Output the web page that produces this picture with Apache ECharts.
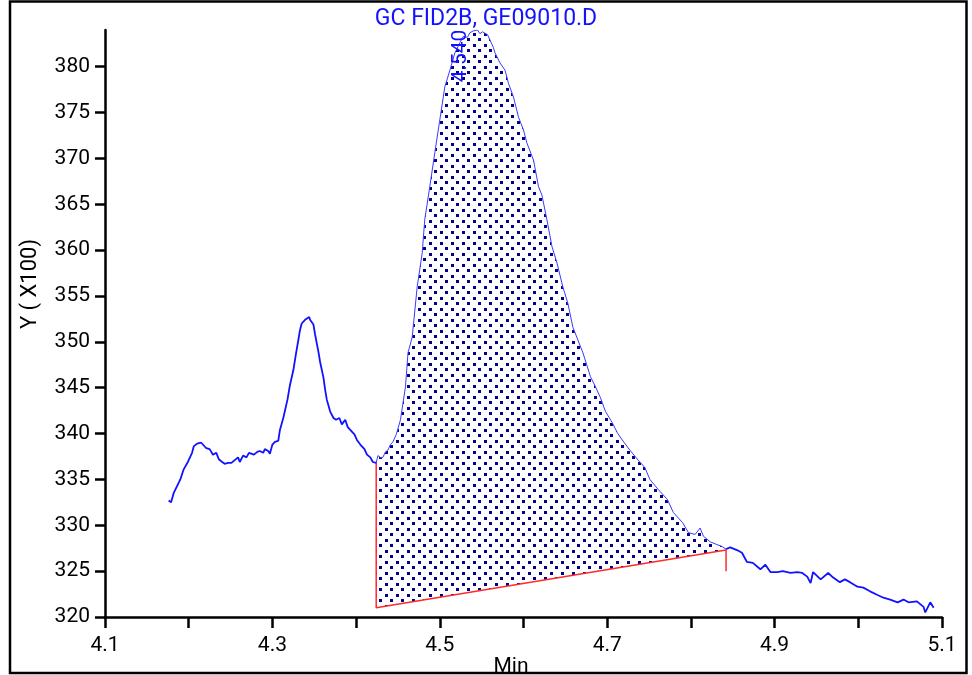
<!DOCTYPE html>
<html>
<head>
<meta charset="utf-8">
<script src="https://cdn.jsdelivr.net/npm/echarts@6/dist/echarts.min.js"></script>
<style>html,body{margin:0;padding:0;background:#fff}#c{width:972px;height:675px}</style>
</head>
<body>
<div id="c"></div>
<script>
// ---- data (time in min, signal in Y x100) ----
const preTime = [4.176,4.179,4.182,4.190,4.194,4.199,4.204,4.206,4.210,4.215,4.217,4.221,4.225,4.229,4.231,4.233,4.236,4.240,4.243,4.247,4.251,4.253,4.255,4.259,4.261,4.265,4.269,4.272,4.274,4.278,4.282,4.285,4.289,4.291,4.295,4.297,4.300,4.303,4.307,4.309,4.313,4.318,4.321,4.325,4.328,4.331,4.333,4.335,4.339,4.341,4.344,4.345,4.349,4.351,4.355,4.357,4.361,4.363,4.365,4.369,4.373,4.376,4.380,4.383,4.387,4.390,4.393,4.398,4.401,4.405,4.410,4.413,4.417,4.420,4.424];
const preSignal = [332.7,332.5,333.5,335.0,336.1,336.9,337.9,338.6,338.9,339.0,338.8,338.4,338.3,337.7,337.5,337.9,337.2,336.9,336.7,336.8,336.8,336.7,337.1,337.4,336.9,337.6,337.4,337.9,338.0,337.7,338.0,338.1,337.9,338.3,338.1,337.8,338.8,339.1,339.2,340.4,341.7,343.7,345.3,346.9,348.6,350.2,351.3,352.0,352.4,352.5,352.7,352.4,351.9,350.8,348.9,347.8,346.1,344.8,343.7,342.4,341.7,341.5,341.7,341.0,341.5,340.7,340.4,339.9,339.3,338.8,338.3,337.7,337.4,336.9,336.8];

const peakTime = [4.424,4.426,4.429,4.432,4.435,4.438,4.441,4.444,4.448,4.453,4.459,4.462,4.467,4.473,4.479,4.482,4.488,4.494,4.500,4.506,4.512,4.518,4.524,4.528,4.533,4.536,4.540,4.545,4.548,4.551,4.557,4.560,4.564,4.566,4.572,4.578,4.582,4.588,4.594,4.600,4.604,4.612,4.618,4.622,4.628,4.634,4.640,4.647,4.653,4.659,4.665,4.671,4.680,4.686,4.692,4.698,4.706,4.712,4.718,4.727,4.737,4.745,4.751,4.761,4.772,4.779,4.790,4.797,4.805,4.811,4.815,4.823,4.831,4.837,4.842];
const peakSignal = [336.8,337.6,337.4,337.4,338.0,338.2,338.8,339.1,339.9,341.5,345.1,348.8,350.5,356.0,359.7,363.3,366.9,370.6,374.2,377.8,379.6,381.5,382.6,383.3,383.2,383.7,383.9,384.0,383.6,383.8,383.5,382.9,382.1,381.5,380.4,379.6,378.2,376.7,374.5,373.1,371.7,369.8,366.9,366.0,363.3,360.4,358.6,356.0,354.2,351.6,350.2,348.8,346.2,345.1,343.9,342.4,341.2,340.1,339.3,338.2,337.1,336.3,335.0,333.9,332.8,331.4,330.3,329.2,329.0,329.7,328.8,328.2,327.9,327.7,327.4];

const postTime = [4.842,4.847,4.855,4.861,4.867,4.874,4.883,4.889,4.895,4.903,4.910,4.919,4.927,4.933,4.939,4.943,4.946,4.955,4.964,4.970,4.978,4.984,4.990,4.999,5.006,5.014,5.023,5.030,5.038,5.047,5.054,5.060,5.070,5.078,5.080,5.086,5.090];
const postSignal = [327.4,327.6,327.3,327.0,326.0,325.9,325.2,325.7,324.9,324.9,325.0,324.8,324.9,324.8,324.4,323.7,324.9,324.1,324.8,324.3,323.8,324.1,323.8,323.3,323.2,322.8,322.4,322.1,321.9,321.6,321.9,321.6,321.7,321.1,320.5,321.6,321.0];

// integration baseline: start / end of peak
const baseTime = [4.424, 4.842];
const baseSignal = [321.0, 327.3];
const baseEndTick = 325.0;

const peakLabel = '4.540';
const xTicks = [4.1,4.2,4.3,4.4,4.5,4.6,4.7,4.8,4.9,5.0,5.1];
const xLabels = [4.1,4.3,4.5,4.7,4.9,5.1];
const yTicks = [320,325,330,335,340,345,350,355,360,365,370,375,380];

// ---- helpers ----
const zip = (a, b) => a.map((v, i) => [v, b[i]]);
const pc = document.createElement('canvas');
pc.width = 11; pc.height = 11;
const pctx = pc.getContext('2d');
pctx.fillStyle = '#000088';
pctx.fillRect(0, 0, 3, 3);
pctx.fillRect(5, 5, 3, 3);
const pattern = { image: pc, repeat: 'repeat' };

const BLUE = '#1212ff';
const FONT = 'Roboto';
const chart = echarts.init(document.getElementById('c'), null, { renderer: 'canvas' });

chart.setOption({
  animation: false,
  backgroundColor: '#fff',
  title: {
    text: 'GC FID2B, GE09010.D',
    left: 'center', top: 3,
    textStyle: { color: BLUE, fontSize: 23, fontWeight: 'normal', fontFamily: FONT }
  },
  grid: { left: 105, right: 30, top: 30, bottom: 58, containLabel: false },
  xAxis: {
    type: 'value', min: 4.1, max: 5.1, interval: 0.1,
    splitLine: { show: false },
    axisLine: { lineStyle: { color: '#000', width: 2.5 } },
    axisTick: { show: true, length: 11, lineStyle: { color: '#000', width: 2.5 }, customValues: xTicks },
    axisLabel: { margin: 18, color: '#000', fontSize: 21, fontFamily: FONT,
      customValues: xLabels, formatter: v => v.toFixed(1) }
  },
  yAxis: {
    type: 'value', min: 320, max: 384, interval: 5,
    splitLine: { show: false },
    axisLine: { show: true, lineStyle: { color: '#000', width: 2.5 } },
    axisTick: { show: true, length: 10, lineStyle: { color: '#000', width: 2.5 }, customValues: yTicks },
    axisLabel: { margin: 15, color: '#000', fontSize: 21, fontFamily: FONT,
      customValues: yTicks, formatter: v => String(v) }
  },
  series: [
    {
      type: 'custom', silent: true, z: 1,
      data: [[4.6, 350]],
      renderItem: function (params, api) {
        const pts = peakTime.map((t, i) => api.coord([t, peakSignal[i]]));
        pts.push(api.coord([baseTime[1], baseSignal[1]]));
        pts.push(api.coord([baseTime[0], baseSignal[0]]));
        return { type: 'polygon', shape: { points: pts }, style: { fill: pattern, stroke: null } };
      }
    },
    {
      type: 'line', data: zip(preTime, preSignal), showSymbol: false, z: 3,
      lineStyle: { color: BLUE, width: 1.8 }
    },
    {
      type: 'line', data: zip(peakTime, peakSignal), showSymbol: false, z: 3,
      lineStyle: { color: '#3a3aff', width: 1 }
    },
    {
      type: 'line', data: zip(postTime, postSignal), showSymbol: false, z: 3,
      lineStyle: { color: BLUE, width: 1.8 }
    },
    {
      type: 'line', showSymbol: false, z: 2,
      data: [[baseTime[0], peakSignal[0]], [baseTime[0], baseSignal[0]], [baseTime[1], baseSignal[1]], [baseTime[1], baseEndTick]],
      lineStyle: { color: '#ff2a2a', width: 1.5 }
    }
  ],
  graphic: [
    { type: 'text', x: 30, y: 284, rotation: Math.PI / 2,
      style: { text: 'Y ( X100)', fill: '#000', font: '22px Roboto', align: 'center', verticalAlign: 'middle' } },
    { type: 'text', x: 511, y: 656,
      style: { text: 'Min', fill: '#000', font: '21px Roboto', align: 'center', verticalAlign: 'top' } },
    { type: 'text', x: 461, y: 56, rotation: Math.PI / 2, z: 10,
      style: { text: peakLabel, fill: BLUE, font: '21px Roboto', align: 'center', verticalAlign: 'middle' } },
    { type: 'rect', z: 100, shape: { x: 10, y: 1.5, width: 956.5, height: 671.5 },
      style: { fill: 'none', stroke: '#000', lineWidth: 2.5 } }
  ]
});
</script>
</body>
</html>
